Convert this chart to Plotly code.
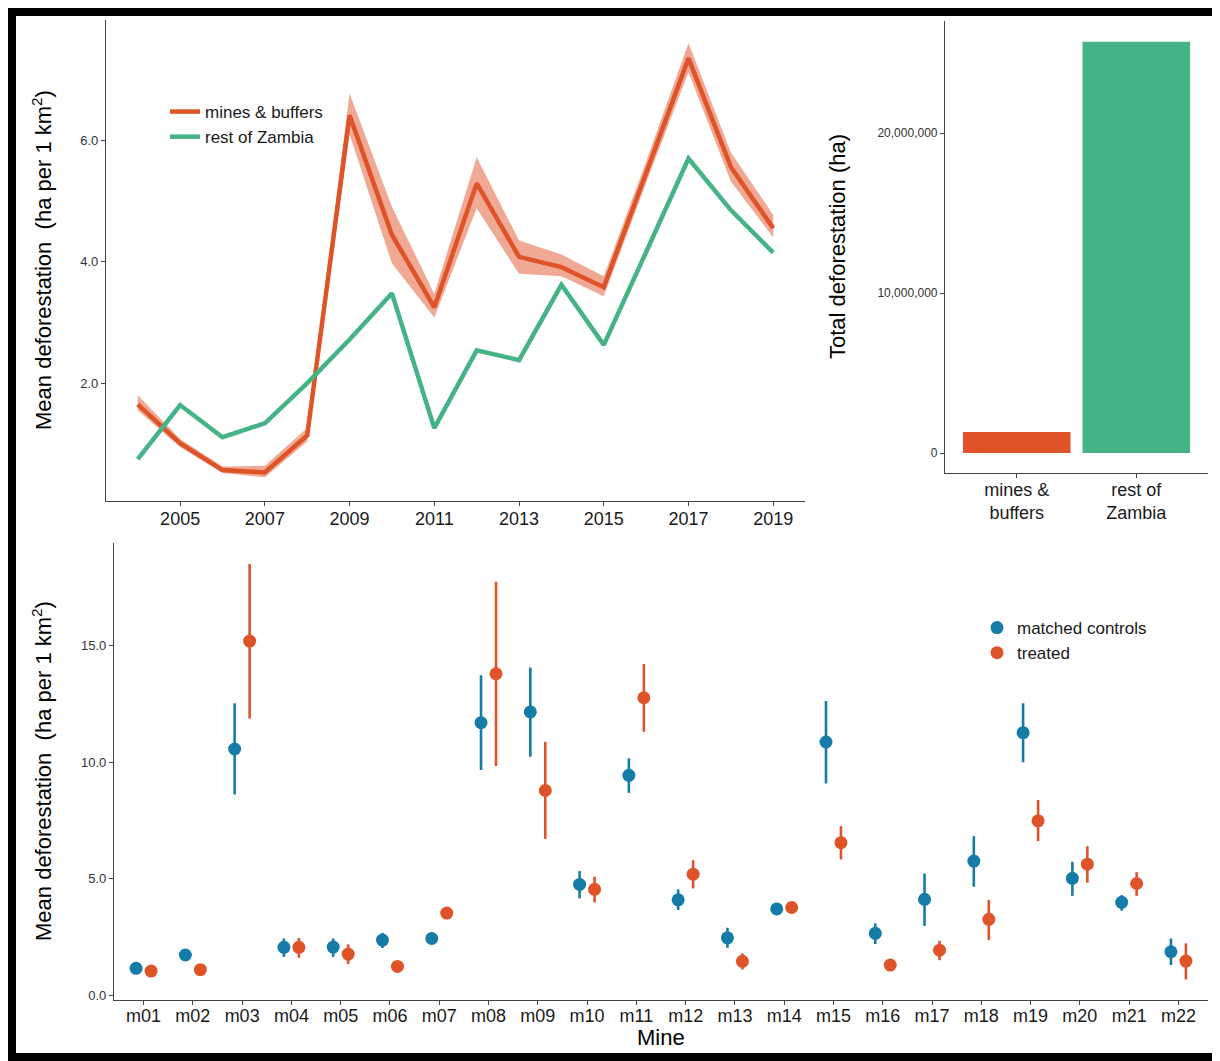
import plotly.graph_objects as go

# ---------------- data ----------------
years = list(range(2004, 2020))
mines_mean = [1.65, 1.01, 0.57, 0.53, 1.14, 6.41, 4.44, 3.25, 5.29, 4.08, 3.91, 3.58, 5.46, 7.35, 5.56, 4.55]
mines_lo   = [1.55, 0.95, 0.52, 0.45, 1.04, 6.10, 3.97, 3.08, 4.88, 3.80, 3.76, 3.43, 5.30, 7.12, 5.32, 4.40]
mines_hi   = [1.80, 1.08, 0.63, 0.64, 1.26, 6.77, 4.90, 3.47, 5.72, 4.35, 4.12, 3.76, 5.65, 7.60, 5.80, 4.77]
zambia_mean = [0.75, 1.64, 1.11, 1.34, 2.00, 2.72, 3.48, 1.26, 2.54, 2.38, 3.62, 2.63, 4.16, 5.70, 4.85, 4.15]

bar_cats = ["mines &<br>buffers", "rest of<br>Zambia"]
bar_vals = [1310000, 25700000]

mines = ["m01", "m02", "m03", "m04", "m05", "m06", "m07", "m08", "m09", "m10", "m11",
         "m12", "m13", "m14", "m15", "m16", "m17", "m18", "m19", "m20", "m21", "m22"]
ctrl_mean = [1.15, 1.72, 10.56, 2.05, 2.06, 2.36, 2.43, 11.69, 12.15, 4.75, 9.43,
             4.09, 2.46, 3.70, 10.86, 2.65, 4.11, 5.75, 11.26, 5.01, 3.98, 1.86]
ctrl_lo   = [1.10, 1.68, 8.61, 1.64, 1.64, 2.02, 2.39, 9.66, 10.23, 4.15, 8.68,
             3.65, 2.03, 3.66, 9.08, 2.19, 2.97, 4.65, 9.99, 4.26, 3.62, 1.29]
ctrl_hi   = [1.20, 1.76, 12.52, 2.43, 2.43, 2.67, 2.47, 13.73, 14.06, 5.32, 10.16,
             4.54, 2.89, 3.74, 12.62, 3.08, 5.22, 6.82, 12.52, 5.72, 4.29, 2.43]
treat_mean = [1.03, 1.09, 15.19, 2.05, 1.76, 1.23, 3.52, 13.79, 8.78, 4.54, 12.76,
              5.19, 1.45, 3.76, 6.54, 1.29, 1.93, 3.25, 7.48, 5.62, 4.79, 1.46]
treat_lo   = [0.99, 1.05, 11.87, 1.60, 1.33, 1.19, 3.48, 9.83, 6.70, 3.98, 11.30,
              4.58, 1.10, 3.59, 5.82, 1.25, 1.50, 2.36, 6.61, 4.82, 4.26, 0.67]
treat_hi   = [1.07, 1.13, 18.50, 2.45, 2.18, 1.27, 3.56, 17.74, 10.87, 5.08, 14.21,
              5.79, 1.79, 3.94, 7.25, 1.33, 2.33, 4.08, 8.37, 6.39, 5.27, 2.22]

# ---------------- styles ----------------
RED = "#DF5329"
RED_FILL = "rgba(223,83,41,0.5)"
GREEN = "#45B386"
BLUE = "#157BA7"
FONT = "Liberation Sans, Arial, sans-serif"
OFF = 8                     # page body margin
W, H = 1220 - OFF, 1061 - OFF

def fx(px):                 # page pixel -> paper fraction
    return (px - OFF) / W

def fy(py):
    return 1 - (py - OFF) / H

fig = go.Figure()

# ---- top-left: time series ----
fig.add_trace(go.Scatter(x=years, y=mines_lo, mode="lines", line=dict(width=0),
                         showlegend=False, hoverinfo="skip", xaxis="x", yaxis="y"))
fig.add_trace(go.Scatter(x=years, y=mines_hi, mode="lines", line=dict(width=0),
                         fill="tonexty", fillcolor=RED_FILL, showlegend=False,
                         hoverinfo="skip", xaxis="x", yaxis="y"))
fig.add_trace(go.Scatter(x=years, y=mines_mean, mode="lines", name="mines & buffers",
                         line=dict(color=RED, width=4.5), xaxis="x", yaxis="y",
                         legend="legend"))
fig.add_trace(go.Scatter(x=years, y=zambia_mean, mode="lines", name="rest of Zambia",
                         line=dict(color=GREEN, width=4.5), xaxis="x", yaxis="y",
                         legend="legend"))

# ---- top-right: bars ----
fig.add_trace(go.Bar(x=bar_cats, y=bar_vals, marker=dict(color=[RED, GREEN], line=dict(width=0)),
                     width=0.9, showlegend=False, xaxis="x2", yaxis="y2"))

# ---- bottom: dodged points with error bars ----
idx = list(range(len(mines)))
dodge = 0.152
fig.add_trace(go.Scatter(
    x=[i - dodge for i in idx], y=ctrl_mean, mode="markers", name="matched controls",
    marker=dict(color=BLUE, size=13),
    error_y=dict(type="data", symmetric=False,
                 array=[h - m for h, m in zip(ctrl_hi, ctrl_mean)],
                 arrayminus=[m - l for m, l in zip(ctrl_mean, ctrl_lo)],
                 color=BLUE, thickness=2.6, width=0),
    xaxis="x3", yaxis="y3", legend="legend2"))
fig.add_trace(go.Scatter(
    x=[i + dodge for i in idx], y=treat_mean, mode="markers", name="treated",
    marker=dict(color=RED, size=13),
    error_y=dict(type="data", symmetric=False,
                 array=[h - m for h, m in zip(treat_hi, treat_mean)],
                 arrayminus=[m - l for m, l in zip(treat_mean, treat_lo)],
                 color=RED, thickness=2.6, width=0),
    xaxis="x3", yaxis="y3", legend="legend2"))

axis_common = dict(showline=True, linecolor="#444444", linewidth=1.2, ticks="outside",
                   ticklen=4, tickcolor="#444444", showgrid=False, zeroline=False,
                   automargin=False)

fig.update_layout(
    width=W, height=H,
    margin=dict(l=0, r=0, t=0, b=0),
    paper_bgcolor="white", plot_bgcolor="white",
    font=dict(family=FONT, color="#000000"),
    xaxis=dict(domain=[fx(106), fx(805)], range=[2003.25, 2019.75], anchor="y",
               tickvals=list(range(2005, 2020, 2)), ticklabelstandoff=-3,
               tickfont=dict(size=18, color="#1a1a1a"), **axis_common),
    yaxis=dict(domain=[fy(501), fy(20)], range=[0.06, 7.98], anchor="x",
               tickvals=[2, 4, 6], tickformat=".1f",
               tickfont=dict(size=13, color="#333333"), **axis_common),
    xaxis2=dict(domain=[fx(945), fx(1208)], range=[-0.6, 1.6], anchor="y2",
                ticklabelstandoff=-4,
                tickfont=dict(size=18, color="#1a1a1a"), **axis_common),
    yaxis2=dict(domain=[fy(473), fy(21)], range=[-1250000, 27000000], anchor="x2",
                tickvals=[0, 10000000, 20000000], tickformat=",d",
                tickfont=dict(size=12, color="#333333"), **axis_common),
    xaxis3=dict(domain=[fx(114), fx(1208)], range=[-0.6, 21.6], anchor="y3",
                tickvals=idx, ticktext=mines, ticklabelstandoff=-5,
                tickfont=dict(size=18, color="#1a1a1a"), **axis_common),
    yaxis3=dict(domain=[fy(1000), fy(543)], range=[-0.21, 19.4], anchor="x3",
                tickvals=[0, 5, 10, 15], tickformat=".1f",
                tickfont=dict(size=13, color="#333333"), **axis_common),
    legend=dict(x=fx(165), y=fy(94), xanchor="left", yanchor="top",
                font=dict(size=17, color="#1a1a1a"), bgcolor="rgba(0,0,0,0)",
                traceorder="normal", tracegroupgap=0, itemwidth=30),
    legend2=dict(x=fx(977), y=fy(610), xanchor="left", yanchor="top",
                 font=dict(size=17, color="#1a1a1a"), bgcolor="rgba(0,0,0,0)",
                 traceorder="normal", tracegroupgap=0, itemwidth=30),
    bargap=0.1,
    annotations=[
        dict(text="Mean deforestation  (ha per 1 km<sup>2</sup>)", textangle=-90,
             x=fx(42), y=fy(260), xref="paper", yref="paper", showarrow=False,
             xanchor="center", yanchor="middle",
             font=dict(size=22, color="#000000")),
        dict(text="Total deforestation (ha)", textangle=-90,
             x=fx(838), y=fy(247), xref="paper", yref="paper", showarrow=False,
             xanchor="center", yanchor="middle",
             font=dict(size=22, color="#000000")),
        dict(text="Mean deforestation  (ha per 1 km<sup>2</sup>)", textangle=-90,
             x=fx(42), y=fy(771), xref="paper", yref="paper", showarrow=False,
             xanchor="center", yanchor="middle",
             font=dict(size=22, color="#000000")),
        dict(text="Mine", x=fx(661), y=fy(1037), xref="paper", yref="paper",
             showarrow=False, xanchor="center", yanchor="middle",
             font=dict(size=22, color="#000000")),
    ],
    shapes=[
        dict(type="rect", xref="paper", yref="paper",
             x0=fx(12), x1=fx(1216), y0=fy(1057), y1=fy(12),
             line=dict(color="black", width=8), fillcolor="rgba(0,0,0,0)", layer="above"),
    ],
)

fig.write_html("out.html")
